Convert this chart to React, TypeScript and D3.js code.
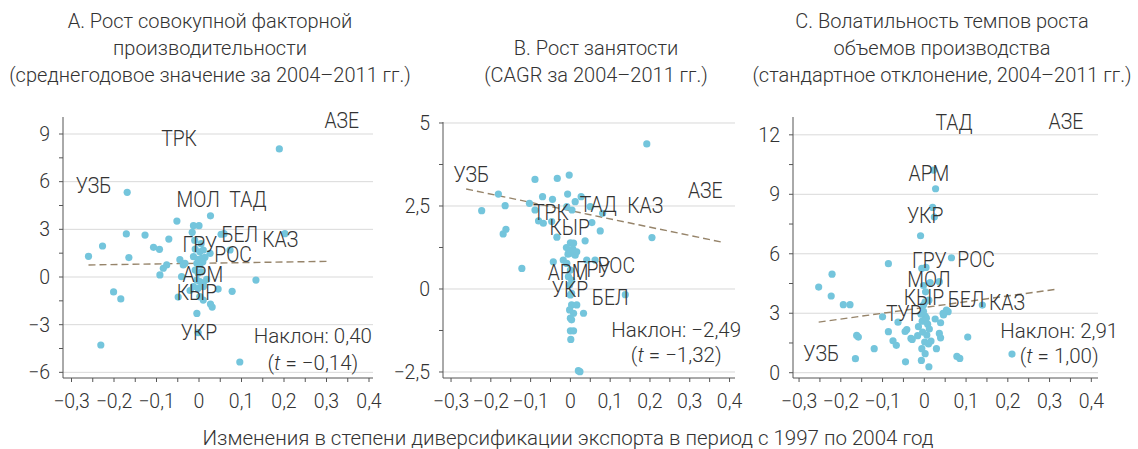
import React from 'react';
import * as d3 from 'd3';

// ---------- DATA ----------
const X_TICKS = [-0.3, -0.2, -0.1, 0, 0.1, 0.2, 0.3, 0.4];
const X_TITLE = 'Изменения в степени диверсификации экспорта в период с 1997 по 2004 год';

const titleA = ['А. Рост совокупной факторной', 'производительности', '(среднегодовое значение за 2004–2011 гг.)'];
const titleB = ['В. Рост занятости', '(CAGR за 2004–2011 гг.)'];
const titleC = ['С. Волатильность темпов роста', 'объемов производства', '(стандартное отклонение, 2004–2011 гг.)'];

const yTicksA = [-6, -3, 0, 3, 6, 9];
const yTicksB = [-2.5, 0, 2.5, 5];
const yTicksC = [0, 3, 6, 9, 12];

const pointsA: [number, number][] = [
  [0.189, 8.06], [-0.169, 5.33], [0.027, 3.85], [-0.052, 3.52], [-0.013, 3.23], [0.0, 3.23],
  [-0.171, 2.71], [-0.127, 2.64], [-0.071, 2.39], [-0.016, 2.81], [0.052, 2.69], [0.059, 2.73],
  [0.202, 2.73], [-0.227, 1.95], [-0.107, 1.87], [-0.093, 1.74], [-0.26, 1.3], [-0.165, 1.22],
  [-0.045, 1.09], [-0.092, 0.13], [-0.084, 0.55], [-0.076, 0.76], [-0.037, 0.76], [-0.033, 0.86],
  [-0.201, -0.94], [-0.184, -1.38], [-0.049, -1.26], [-0.041, 0.02], [0.078, -0.9], [0.045, -0.76],
  [0.134, -0.19], [0.027, -1.7], [0.031, -1.89], [-0.005, -2.29], [-0.002, -3.5], [0.096, -5.35],
  [-0.231, -4.28], [-0.021, -0.85], [0.026, 1.49], [0.073, 1.7], [-0.009, 1.76], [0.002, 1.59],
  [0.01, 1.7], [-0.013, 1.28], [-0.002, 1.11], [0.006, 1.18], [0.014, 1.24], [-0.005, 0.86],
  [0.002, 0.76], [0.009, 0.96], [-0.009, 0.44], [-0.002, 0.23], [0.006, 0.33], [-0.005, -0.19],
  [0.002, -0.29], [0.01, -0.4], [0.018, -0.15], [-0.013, -0.61], [-0.002, -0.71], [0.01, -0.61],
  [0.002, -1.24], [0.01, -1.45], [0.005, 2.1], [-0.01, 2.3],
];

const pointsB: [number, number][] = [
  [0.192, 4.37], [-0.003, 3.43], [-0.033, 3.33], [-0.089, 3.3], [-0.181, 2.86], [-0.223, 2.36],
  [-0.164, 2.51], [-0.169, 1.66], [-0.162, 1.8], [-0.122, 0.62], [0.205, 1.55], [0.138, -0.17],
  [-0.07, 2.78], [-0.045, 2.7], [-0.007, 2.86], [0.027, 2.78], [0.012, 2.63], [-0.103, 2.58],
  [-0.089, 2.38], [0.004, 2.38], [-0.009, 2.48], [0.05, 2.48], [0.081, 2.28], [-0.08, 2.05],
  [-0.068, 1.98], [-0.047, 2.03], [0.054, 2.0], [0.075, 1.75], [-0.034, 1.56], [0.037, 1.45],
  [0.0, 1.39], [0.008, 1.38], [-0.01, 1.25], [-0.004, 1.15], [0.003, 1.08], [0.012, 1.02],
  [0.016, 1.12], [-0.006, 1.05], [0.006, 1.2], [-0.043, 0.82], [-0.018, 0.87], [-0.009, 0.77],
  [0.041, 0.87], [0.062, 0.87], [0.0, 0.57], [-0.005, 0.37], [0.003, 0.27], [-0.002, 0.12],
  [0.003, -0.13], [0.0, -0.18], [0.003, -0.48], [0.016, -0.48], [-0.002, -0.63], [0.008, -0.73],
  [0.0, -0.88], [0.003, -0.93], [0.033, -0.73], [0.0, -1.26], [0.008, -1.26], [0.001, -1.52],
  [0.02, -2.46], [0.024, -2.49],
];

const pointsC: [number, number][] = [
  [0.022, 10.22], [0.027, 9.28], [0.02, 8.34], [0.024, 7.85], [-0.009, 6.91], [0.065, 5.8],
  [-0.086, 5.5], [-0.006, 5.26], [0.004, 5.31], [-0.221, 4.97], [-0.253, 4.32], [-0.223, 3.87],
  [-0.194, 3.43], [-0.178, 3.43], [0.014, 4.55], [0.036, 4.59], [0.003, 4.08], [-0.002, 4.4],
  [0.011, 3.66], [0.002, 3.58], [-0.002, 3.41], [0.139, 3.41], [0.045, 2.99], [0.057, 3.08],
  [0.053, 3.16], [0.046, 2.91], [-0.1, 2.82], [-0.063, 2.55], [-0.162, 1.88], [-0.158, 1.8],
  [-0.12, 1.21], [-0.086, 2.07], [-0.075, 1.61], [-0.067, 1.38], [-0.042, 2.18], [-0.046, 2.08],
  [-0.032, 1.73], [-0.029, 1.68], [-0.016, 1.87], [-0.045, 0.55], [-0.007, 0.62], [0.011, 0.3],
  [0.002, 0.96], [-0.006, 1.21], [0.029, 1.21], [0.036, 1.98], [0.039, 1.76], [0.039, 2.52],
  [0.026, 2.71], [0.078, 0.82], [0.085, 0.72], [0.104, 1.8], [0.21, 0.94], [-0.165, 0.71],
  [-0.014, 2.32], [-0.005, 2.6], [0.002, 2.85], [0.008, 2.45], [0.012, 2.2], [-0.004, 2.05],
  [0.006, 1.9], [0.001, 1.55], [0.01, 1.45], [0.016, 1.6], [-0.002, 3.1], [0.005, 2.75],
  [-0.008, 2.95],
];

// country labels: [text, x, y] in data coordinates
const labelsA: [string, number, number][] = [
  ['АЗЕ', 0.336, 9.38], ['ТРК', -0.047, 8.24], ['УЗБ', -0.248, 5.31], ['МОЛ', -0.002, 4.42],
  ['ТАД', 0.115, 4.42], ['БЕЛ', 0.096, 2.22], ['КАЗ', 0.191, 1.91], ['ГРУ', 0.002, 1.59],
  ['РОС', 0.08, 0.96], ['АРМ', 0.009, -0.3], ['КЫР', -0.005, -1.45], ['УКР', 0.0, -3.96],
];
const labelsB: [string, number, number][] = [
  ['УЗБ', -0.249, 3.23], ['АЗЕ', 0.339, 2.73], ['ТРК', -0.049, 2.08], ['ТАД', 0.07, 2.33],
  ['КАЗ', 0.188, 2.29], ['КЫР', -0.002, 1.63], ['АРМ', -0.006, 0.27], ['ГРУ', 0.057, 0.37],
  ['РОС', 0.115, 0.47], ['УКР', -0.001, -0.23], ['БЕЛ', 0.1, -0.48],
];
const labelsC: [string, number, number][] = [
  ['ТАД', 0.071, 12.24], ['АЗЕ', 0.339, 12.27], ['АРМ', 0.011, 9.68], ['УКР', 0.002, 7.53],
  ['ГРУ', 0.012, 5.26], ['РОС', 0.124, 5.32], ['МОЛ', 0.011, 4.34], ['КЫР', -0.001, 3.41],
  ['БЕЛ', 0.1, 3.33], ['КАЗ', 0.198, 3.16], ['ТУР', -0.049, 2.62], ['УЗБ', -0.247, 0.61],
];

// regression: [intercept, slope, xStart, xEnd], and stats text
const fitA = [0.864, 0.4, -0.26, 0.305];
const fitB = [2.36, -2.49, -0.262, 0.383];
const fitC = [3.29, 2.91, -0.253, 0.312];
const statsA = { slope: '0,40', t: '−0,14', x: 0.268, y1: -4.17, y2: -5.85 };
const statsB = { slope: '−2,49', t: '−1,32', x: 0.266, y1: -1.44, y2: -2.19 };
const statsC = { slope: '2,91', t: '1,00', x: 0.323, y1: 1.73, y2: 0.47 };

// ---------- STYLE ----------
const FONT = 'Roboto, "Open Sans", sans-serif';
const TEXT = '#333333';
const DOT = '#74c5dc';
const GRID = '#d9d9d9';
const AXIS = '#555555';
const FIT = '#96846a';

const fmt = (v: number) => {
  const s = String(Math.abs(Math.round(v * 100) / 100)).replace('.', ',');
  return (v < 0 ? '−' : '') + s;
};

type PanelProps = {
  left: number; right: number; top: number; bottom: number;
  xDomain: [number, number]; yDomain: [number, number];
  yTicks: number[]; yMinor: number;
  points: [number, number][];
  labels: [string, number, number][];
  fit: number[];
  stats: { slope: string; t: string; x: number; y1: number; y2: number };
  title: string[]; titleX: number; titleY: number[];
};

function Panel(p: PanelProps) {
  const x = d3.scaleLinear().domain(p.xDomain).range([p.left, p.right]);
  const y = d3.scaleLinear().domain(p.yDomain).range([p.bottom, p.top]);
  const xMinor = d3.range(-0.3, 0.4001, 0.05);
  const yMin = p.yTicks[0];
  const yMax = p.yTicks[p.yTicks.length - 1];
  const yMinorTicks = d3.range(yMin, yMax + 0.001, p.yMinor);
  const [b0, b1, xs, xe] = p.fit;
  const line = d3.line<number>().x((v) => x(v)).y((v) => y(b0 + b1 * v));
  return (
    <g>
      {p.title.map((t, i) => (
        <text key={i} x={p.titleX} y={p.titleY[i]} textAnchor="middle" fontSize={20} fontWeight={300} fill={TEXT}>{t}</text>
      ))}
      {p.yTicks.map((t) => (
        <line key={'g' + t} x1={p.left} x2={p.right} y1={y(t)} y2={y(t)} stroke={GRID} strokeWidth={1} />
      ))}
      <path d={line([xs, xe]) || ''} fill="none" stroke={FIT} strokeWidth={1.4} strokeDasharray="7,4" />
      {p.points.map(([px, py], i) => (
        <circle key={i} cx={x(px)} cy={y(py)} r={3.6} fill={DOT} />
      ))}
      {p.labels.map(([t, lx, ly]) => (
        <text key={t} transform={`translate(${x(lx)},${y(ly)}) scale(0.9,1)`} textAnchor="middle" fontSize={21.5} fontWeight={300} fill={TEXT}>{t}</text>
      ))}
      <text x={x(p.stats.x)} y={y(p.stats.y1)} textAnchor="middle" fontSize={20.5} fontWeight={300} fill={TEXT}>Наклон: {p.stats.slope}</text>
      <text x={x(p.stats.x)} y={y(p.stats.y2)} textAnchor="middle" fontSize={20.5} fontWeight={300} fill={TEXT}>
        (<tspan fontStyle="italic">t</tspan> = {p.stats.t})
      </text>
      {/* axes */}
      <line x1={p.left} x2={p.left} y1={p.top} y2={p.bottom} stroke={AXIS} strokeWidth={1} />
      <line x1={p.left} x2={p.right} y1={p.bottom} y2={p.bottom} stroke={AXIS} strokeWidth={1} />
      {yMinorTicks.map((t) => (
        <line key={'yt' + t} x1={p.left - 4} x2={p.left} y1={y(t)} y2={y(t)} stroke={AXIS} strokeWidth={1} />
      ))}
      {p.yTicks.map((t) => (
        <text key={'yl' + t} x={p.left - 13} y={y(t)} dy="0.35em" textAnchor="end" fontSize={19.5} fontWeight={300} fill={TEXT}>{fmt(t)}</text>
      ))}
      {xMinor.map((t, i) => (
        <line key={'xt' + i} x1={x(t)} x2={x(t)} y1={p.bottom} y2={p.bottom + 4} stroke={AXIS} strokeWidth={1} />
      ))}
      {X_TICKS.map((t) => (
        <text key={'xl' + t} x={x(t)} y={p.bottom + 30} textAnchor="middle" fontSize={19.5} fontWeight={300} fill={TEXT}>{fmt(t)}</text>
      ))}
    </g>
  );
}

export default function App() {
  return (
    <svg width={1138} height={449} style={{ position: 'absolute', left: 0, top: 0, fontFamily: FONT }}>
      <rect width={1138} height={449} fill="#ffffff" />
      <Panel left={63} right={373} top={117} bottom={378} xDomain={[-0.32, 0.4094]} yDomain={[-6.356, 10.07]}
        yTicks={yTicksA} yMinor={1.5} points={pointsA} labels={labelsA} fit={fitA} stats={statsA}
        title={titleA} titleX={210} titleY={[28, 55, 82]} />
      <Panel left={443} right={735} top={122} bottom={378} xDomain={[-0.3202, 0.4137]} yDomain={[-2.681, 5.03]}
        yTicks={yTicksB} yMinor={1.25} points={pointsB} labels={labelsB} fit={fitB} stats={statsB}
        title={titleB} titleX={596} titleY={[55, 82]} />
      <Panel left={793} right={1098} top={117} bottom={378} xDomain={[-0.3145, 0.416]} yDomain={[-0.267, 12.9]}
        yTicks={yTicksC} yMinor={1.5} points={pointsC} labels={labelsC} fit={fitC} stats={statsC}
        title={titleC} titleX={942} titleY={[28, 55, 82]} />
      <text x={568} y={445} textAnchor="middle" fontSize={20.5} fontWeight={300} fill={TEXT}>{X_TITLE}</text>
    </svg>
  );
}
